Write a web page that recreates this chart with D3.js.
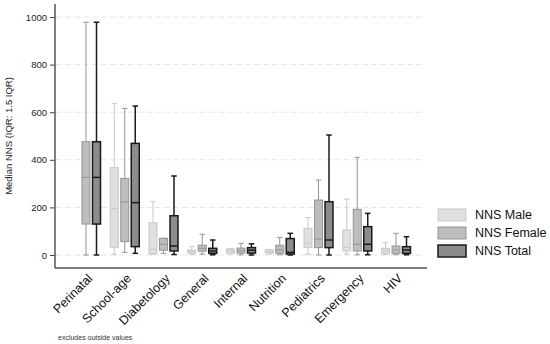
<!DOCTYPE html>
<html>
<head>
<meta charset="utf-8">
<script src="https://cdn.jsdelivr.net/npm/d3@7"></script>
<style>
  body { margin: 0; background: #fff; }
  text { font-family: "Liberation Sans", Arial, Helvetica, sans-serif; }
</style>
</head>
<body>
<svg id="chart" width="550" height="344"></svg>
<script>
// categories along the x axis
var categories = ["Perinatal", "School-age", "Diabetology", "General", "Internal",
  "Nutrition", "Pediatrics", "Emergency", "HIV"]

var seriesNames = ["NNS Male", "NNS Female", "NNS Total"]

// each entry: [lower whisker, Q1, median, Q3, upper whisker]; null = no box
var maleStats = [
  null,
  [3, 32, 195, 367, 637],
  [2, 7, 24, 136, 224],
  [2, 8, 14, 21, 35],
  [4, 8, 17, 25, 28],
  [4, 8, 15, 22, 22],
  [3, 32, 49, 112, 157],
  [4, 17, 32, 105, 235],
  [2, 7, 19, 28, 53]
]
var femaleStats = [
  [0, 130, 326, 476, 978],
  [11, 56, 223, 322, 616],
  [7, 20, 45, 70, 70],
  [4, 16, 28, 41, 87],
  [1, 8, 18, 29, 49],
  [1, 7, 21, 41, 74],
  [0, 31, 67, 231, 315],
  [1, 17, 45, 192, 410],
  [1, 7, 21, 38, 91]
]
var totalStats = [
  [0, 130, 326, 476, 978],
  [7, 35, 220, 469, 626],
  [2, 17, 38, 165, 332],
  [1, 7, 17, 28, 63],
  [0, 8, 20, 31, 47],
  [0, 4, 11, 69, 91],
  [0, 31, 63, 224, 504],
  [1, 17, 45, 119, 175],
  [1, 7, 21, 35, 77]
]

var yTicks = [0, 200, 400, 600, 800, 1000]

var styles = [
  { fill: "#e0e0e0", stroke: "#c8c8c8", width: 1 },
  { fill: "#bdbdbd", stroke: "#959595", width: 1 },
  { fill: "#8c8c8c", stroke: "#1a1a1a", width: 1.5 }
]

var svg = d3.select("#chart")
// plot frame (named so they don't clash with window.top)
var plotLeft = 55, plotRight = 427, plotTop = 4, plotBottom = 268

var x = d3.scalePoint().domain(categories).range([plotLeft, plotRight]).padding(0.8)
var y = d3.scaleLinear().domain([0, 1000]).range([255, 17])

// gridlines
svg.selectAll(".grid")
  .data(yTicks)
  .enter().append("line")
  .attr("class", "grid")
  .attr("x1", plotLeft + 1).attr("x2", plotRight - 2)
  .attr("y1", function(d) { return y(d) }).attr("y2", function(d) { return y(d) })
  .attr("stroke", "#e6e6e6")
  .attr("stroke-dasharray", "6,3")

// y axis
var yAxis = svg.append("g")
  .attr("transform", "translate(" + plotLeft + ",0)")
  .call(d3.axisLeft(y).tickValues(yTicks).tickFormat(d3.format("d")).tickSize(5).tickPadding(3))
yAxis.select(".domain").remove()
yAxis.selectAll(".tick line").attr("stroke", "#444")
yAxis.selectAll(".tick text").attr("font-size", 9.5).attr("fill", "#222")
  .style("font-family", "'Liberation Sans', Arial, sans-serif")

svg.append("line")
  .attr("x1", plotLeft).attr("x2", plotLeft).attr("y1", plotTop).attr("y2", plotBottom)
  .attr("stroke", "#555").attr("stroke-width", 1.5)
svg.append("line")
  .attr("x1", plotLeft).attr("x2", plotRight).attr("y1", plotBottom).attr("y2", plotBottom)
  .attr("stroke", "#555").attr("stroke-width", 1.5)

// boxes
var allStats = [maleStats, femaleStats, totalStats]
var offsets = [-10.5, 0, 10.5]
var boxW = 8, capW = 5.5

allStats.forEach(function(stats, s) {
  var st = styles[s]
  var data = stats.map(function(d, i) { return { cat: categories[i], v: d } })
    .filter(function(d) { return d.v })
  var g = svg.selectAll(".box" + s)
    .data(data)
    .enter().append("g")
    .attr("class", "box" + s)
    .attr("transform", function(d) { return "translate(" + (x(d.cat) + offsets[s]) + ",0)" })

  // whiskers
  g.append("line")
    .attr("x1", 0).attr("x2", 0)
    .attr("y1", function(d) { return y(d.v[4]) }).attr("y2", function(d) { return y(d.v[3]) })
    .attr("stroke", st.stroke).attr("stroke-width", st.width)
  g.append("line")
    .attr("x1", 0).attr("x2", 0)
    .attr("y1", function(d) { return y(d.v[1]) }).attr("y2", function(d) { return y(d.v[0]) })
    .attr("stroke", st.stroke).attr("stroke-width", st.width)
  g.append("line")
    .attr("x1", -capW / 2).attr("x2", capW / 2)
    .attr("y1", function(d) { return y(d.v[4]) }).attr("y2", function(d) { return y(d.v[4]) })
    .attr("stroke", st.stroke).attr("stroke-width", st.width)
  g.append("line")
    .attr("x1", -capW / 2).attr("x2", capW / 2)
    .attr("y1", function(d) { return y(d.v[0]) }).attr("y2", function(d) { return y(d.v[0]) })
    .attr("stroke", st.stroke).attr("stroke-width", st.width)

  g.append("rect")
    .attr("x", -boxW / 2).attr("width", boxW)
    .attr("y", function(d) { return y(d.v[3]) })
    .attr("height", function(d) { return Math.max(1, y(d.v[1]) - y(d.v[3])) })
    .attr("fill", st.fill).attr("stroke", st.stroke).attr("stroke-width", st.width)
  g.append("line")
    .attr("x1", -boxW / 2).attr("x2", boxW / 2)
    .attr("y1", function(d) { return y(d.v[2]) }).attr("y2", function(d) { return y(d.v[2]) })
    .attr("stroke", st.stroke).attr("stroke-width", st.width)
})

// x labels, rotated 45 degrees
svg.selectAll(".xlab")
  .data(categories)
  .enter().append("text")
  .attr("class", "xlab")
  .attr("transform", function(d) { return "translate(" + (x(d) + 1) + "," + (plotBottom + 5) + ") rotate(-45)" })
  .attr("text-anchor", "end")
  .attr("dy", "0.7em")
  .attr("font-size", 12.5)
  .attr("fill", "#111")
  .text(function(d) { return d })

// y axis title
svg.append("text")
  .attr("transform", "translate(12," + ((plotTop + plotBottom) / 2) + ") rotate(-90)")
  .attr("text-anchor", "middle")
  .attr("font-size", 9.5)
  .attr("fill", "#222")
  .text("Median NNS (IQR: 1.5 IQR)")

// legend
var leg = svg.selectAll(".leg")
  .data(seriesNames)
  .enter().append("g")
  .attr("class", "leg")
  .attr("transform", function(d, i) { return "translate(438," + (209 + i * 18) + ")" })
leg.append("rect")
  .attr("width", 28).attr("height", 12)
  .attr("fill", function(d, i) { return styles[i].fill })
  .attr("stroke", function(d, i) { return styles[i].stroke })
  .attr("stroke-width", function(d, i) { return styles[i].width })
leg.append("text")
  .attr("x", 37).attr("y", 6).attr("dy", "0.35em")
  .attr("font-size", 12.5)
  .attr("fill", "#111")
  .text(function(d) { return d })

svg.append("text")
  .attr("x", 58).attr("y", 340)
  .attr("font-size", 7)
  .attr("fill", "#333")
  .text("excludes outside values")
</script>
</body>
</html>
